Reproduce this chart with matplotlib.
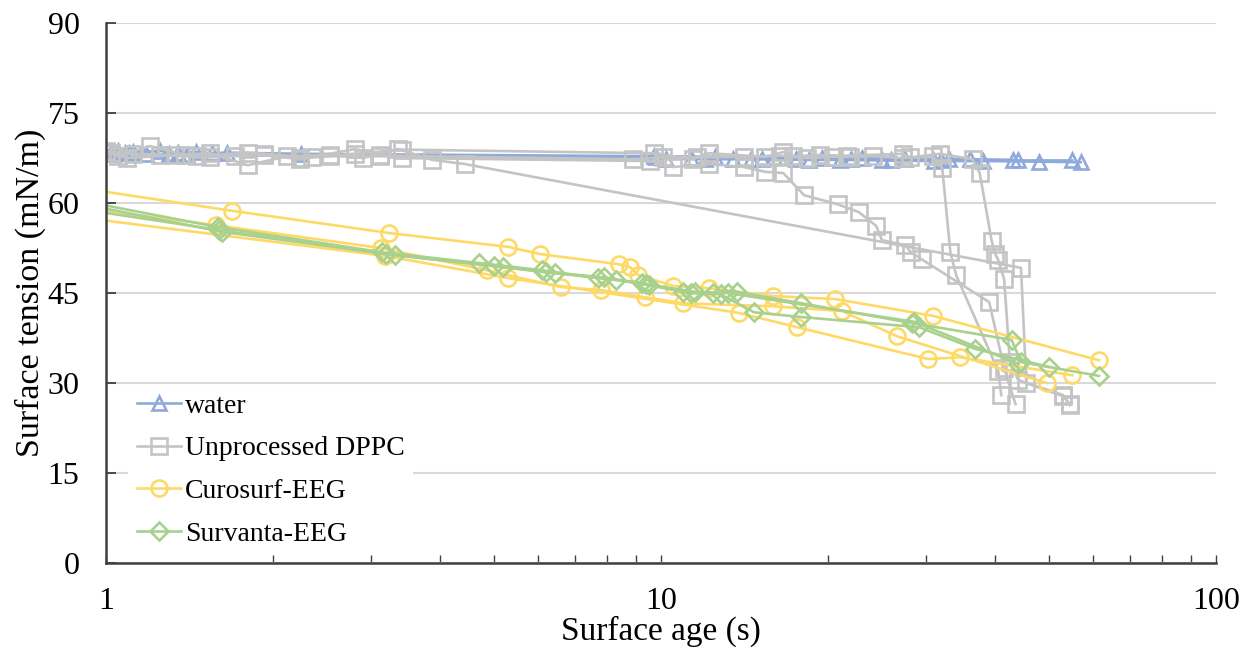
import matplotlib.pyplot as plt
from matplotlib.ticker import FixedLocator, LogLocator, NullFormatter

plt.rcParams['font.family'] = ['Liberation Serif', 'DejaVu Serif']

# ---- data (surface age s, surface tension mN/m), several runs per sample ----
water_1_x = [1.02, 1.05, 1.08, 1.12, 1.25, 1.35, 1.45, 1.55, 1.65, 2.25, 9.7, 12.5, 16.0, 19.5, 23.0, 27.5, 33.0, 36.0, 43.0]
water_1_y = [68.5, 68.6, 68.4, 68.5, 68.7, 68.4, 68.5, 68.3, 68.4, 68.2, 67.8, 67.7, 67.6, 67.5, 67.5, 67.4, 67.3, 67.3, 67.2]
water_2_x = [1.03, 1.10, 1.18, 1.30, 1.40, 9.8, 11.3, 13.5, 15.2, 17.5, 22.0, 26.0, 32.0, 44.0, 55.0]
water_2_y = [68.2, 68.3, 68.2, 68.1, 68.0, 67.6, 67.5, 67.4, 67.4, 67.3, 67.3, 67.2, 67.2, 67.1, 67.1]
water_3_x = [10.2, 12.0, 14.5, 18.5, 21.0, 25.0, 31.0, 38.0, 48.0, 57.0]
water_3_y = [67.4, 67.3, 67.3, 67.2, 67.2, 67.1, 67.0, 67.0, 66.9, 66.8]

dppc_1_x = [1.0, 1.09, 1.33, 1.54, 1.8, 2.12, 2.53, 2.9, 3.36, 3.87, 4.43, 44.5, 45.5, 53.0, 54.5]
dppc_1_y = [68.5, 67.5, 68.0, 68.3, 66.3, 67.8, 68.0, 67.5, 69.0, 67.2, 66.5, 49.2, 30.0, 27.8, 26.5]
dppc_2_x = [1.05, 1.2, 1.39, 1.71, 1.93, 2.24, 2.81, 3.12, 3.41, 9.55, 10.5, 12.2, 14.1, 15.4, 16.6, 18.1, 20.8, 22.7, 24.4, 25.0, 27.5, 28.2, 29.5, 39.0, 41.5, 43.5]
dppc_2_y = [67.8, 69.5, 68.0, 67.8, 68.0, 67.3, 69.0, 68.0, 67.5, 67.0, 66.0, 66.5, 66.0, 65.2, 65.0, 61.3, 59.8, 58.5, 56.2, 53.8, 53.0, 51.8, 50.6, 43.5, 32.5, 26.5]
dppc_3_x = [1.0, 1.12, 1.46, 1.8, 2.35, 2.53, 3.12, 8.9, 10.1, 11.6, 14.1, 16.4, 18.3, 20.4, 21.9, 24.1, 27.3, 30.9, 32.1, 33.2, 34.0, 40.5, 41.0]
dppc_3_y = [68.6, 68.2, 67.8, 68.4, 67.6, 67.8, 67.9, 67.3, 67.6, 67.6, 67.7, 67.9, 67.5, 67.7, 67.7, 67.8, 67.5, 67.8, 65.8, 51.8, 48.0, 32.0, 28.0]
dppc_4_x = [1.02, 1.25, 1.54, 1.93, 2.24, 2.81, 3.41, 9.7, 11.4, 12.2, 15.4, 16.6, 17.3, 19.3, 21.6, 27.3, 28.1, 31.8, 36.4, 37.5, 39.4, 40.0, 40.5, 41.5, 42.5, 44.0, 53.0, 54.5]
dppc_4_y = [68.3, 68.0, 67.6, 68.2, 67.5, 68.2, 68.9, 68.3, 67.3, 68.3, 67.7, 68.5, 67.8, 68.0, 67.9, 68.2, 67.6, 68.2, 67.3, 65.0, 53.7, 51.5, 50.5, 47.3, 33.5, 30.5, 28.0, 26.3]

curo_1_x = [0.9, 1.69, 3.24, 5.3, 6.05, 8.4, 8.8, 9.1, 10.5, 12.2, 15.9, 20.6, 30.9, 61.5]
curo_1_y = [62.5, 58.7, 55.0, 52.7, 51.5, 49.8, 49.3, 48.0, 46.2, 45.8, 44.5, 44.0, 41.2, 33.8]
curo_2_x = [0.9, 1.58, 3.13, 4.85, 6.6, 7.8, 9.35, 10.95, 15.9, 21.2, 26.6, 49.5]
curo_2_y = [59.2, 56.3, 52.5, 48.8, 46.0, 45.5, 44.3, 43.3, 42.8, 42.0, 37.8, 30.0]
curo_3_x = [0.9, 3.18, 5.3, 13.8, 17.6, 30.3, 34.6, 55.1]
curo_3_y = [57.6, 51.2, 47.5, 41.7, 39.3, 34.0, 34.3, 31.3]

surv_1_x = [0.9, 1.59, 3.14, 4.7, 6.1, 7.7, 9.25, 10.95, 12.4, 13.7, 17.9, 28.3, 42.8, 44.5, 61.5]
surv_1_y = [60.4, 56.0, 51.8, 50.0, 48.8, 47.5, 46.7, 45.2, 45.0, 45.2, 43.3, 40.0, 37.2, 33.5, 31.2]
surv_2_x = [0.9, 1.62, 3.32, 5.2, 6.45, 8.3, 9.5, 11.3, 12.8, 14.7, 17.9, 29.2, 36.8, 49.9]
surv_2_y = [59.9, 55.2, 51.3, 49.3, 48.3, 47.2, 46.3, 45.0, 44.8, 41.8, 41.0, 39.3, 35.7, 32.7]
surv_3_x = [0.9, 1.6, 3.2, 5.0, 6.2, 7.9, 9.4, 11.5, 13.2, 28.6, 44.0]
surv_3_y = [59.0, 55.5, 51.5, 49.5, 48.5, 47.6, 46.5, 45.2, 45.0, 40.2, 33.2]

series = [
    ('water', '#8EA9DB', '^', 10, [(water_1_x, water_1_y), (water_2_x, water_2_y), (water_3_x, water_3_y)]),
    ('Unprocessed DPPC', '#C4C4C4', 's', 11, [(dppc_1_x, dppc_1_y), (dppc_2_x, dppc_2_y), (dppc_3_x, dppc_3_y), (dppc_4_x, dppc_4_y)]),
    ('Curosurf-EEG', '#FFD966', 'o', 11.5, [(curo_1_x, curo_1_y), (curo_2_x, curo_2_y), (curo_3_x, curo_3_y)]),
    ('Survanta-EEG', '#A9D18E', 'D', 9, [(surv_1_x, surv_1_y), (surv_2_x, surv_2_y), (surv_3_x, surv_3_y)]),
]

fig = plt.figure(figsize=(12.41, 6.48), dpi=100)
ax = fig.add_axes([0.0854, 0.131, 0.8946, 0.8335])

for name, color, marker, ms, runs in series:
    for i, (xs, ys) in enumerate(runs):
        ax.plot(xs, ys, color=color, lw=1.9, marker=marker, ms=ms, mfc='none',
                mew=1.9, label=name if i == 0 else None)

ax.set_xscale('log')
ax.set_xlim(1, 100)
ax.set_ylim(0, 90)
ax.yaxis.set_major_locator(FixedLocator([0, 15, 30, 45, 60, 75, 90]))
ax.xaxis.set_major_locator(FixedLocator([1, 10, 100]))
ax.xaxis.set_minor_locator(LogLocator(base=10, subs=range(2, 10)))
ax.xaxis.set_minor_formatter(NullFormatter())
ax.set_xticklabels(['1', '10', '100'])

ax.grid(axis='y', color='#D9D9D9', lw=1.5)
ax.set_axisbelow(True)
for s in ['top', 'right']:
    ax.spines[s].set_visible(False)
for s in ['left', 'bottom']:
    ax.spines[s].set_color('#404040')
    ax.spines[s].set_linewidth(1.8)

ax.tick_params(axis='y', direction='in', length=7, width=1.3, color='#404040',
               labelsize=23, pad=19)
ax.tick_params(axis='x', which='both', direction='in', length=6, width=1,
               color='#404040', labelsize=23, pad=17)

ax.set_ylabel('Surface tension (mN/m)', fontsize=24.5, labelpad=1)
ax.set_xlabel('Surface age (s)', fontsize=24, labelpad=0)

leg = ax.legend(loc='lower left', bbox_to_anchor=(0.02, 0.015), borderaxespad=0,
                fontsize=20, frameon=True, framealpha=1, edgecolor='none',
                fancybox=False, handlelength=1.6, handletextpad=0.15,
                labelspacing=0.62, borderpad=0.3)

fig.savefig('out.png', dpi=100)
